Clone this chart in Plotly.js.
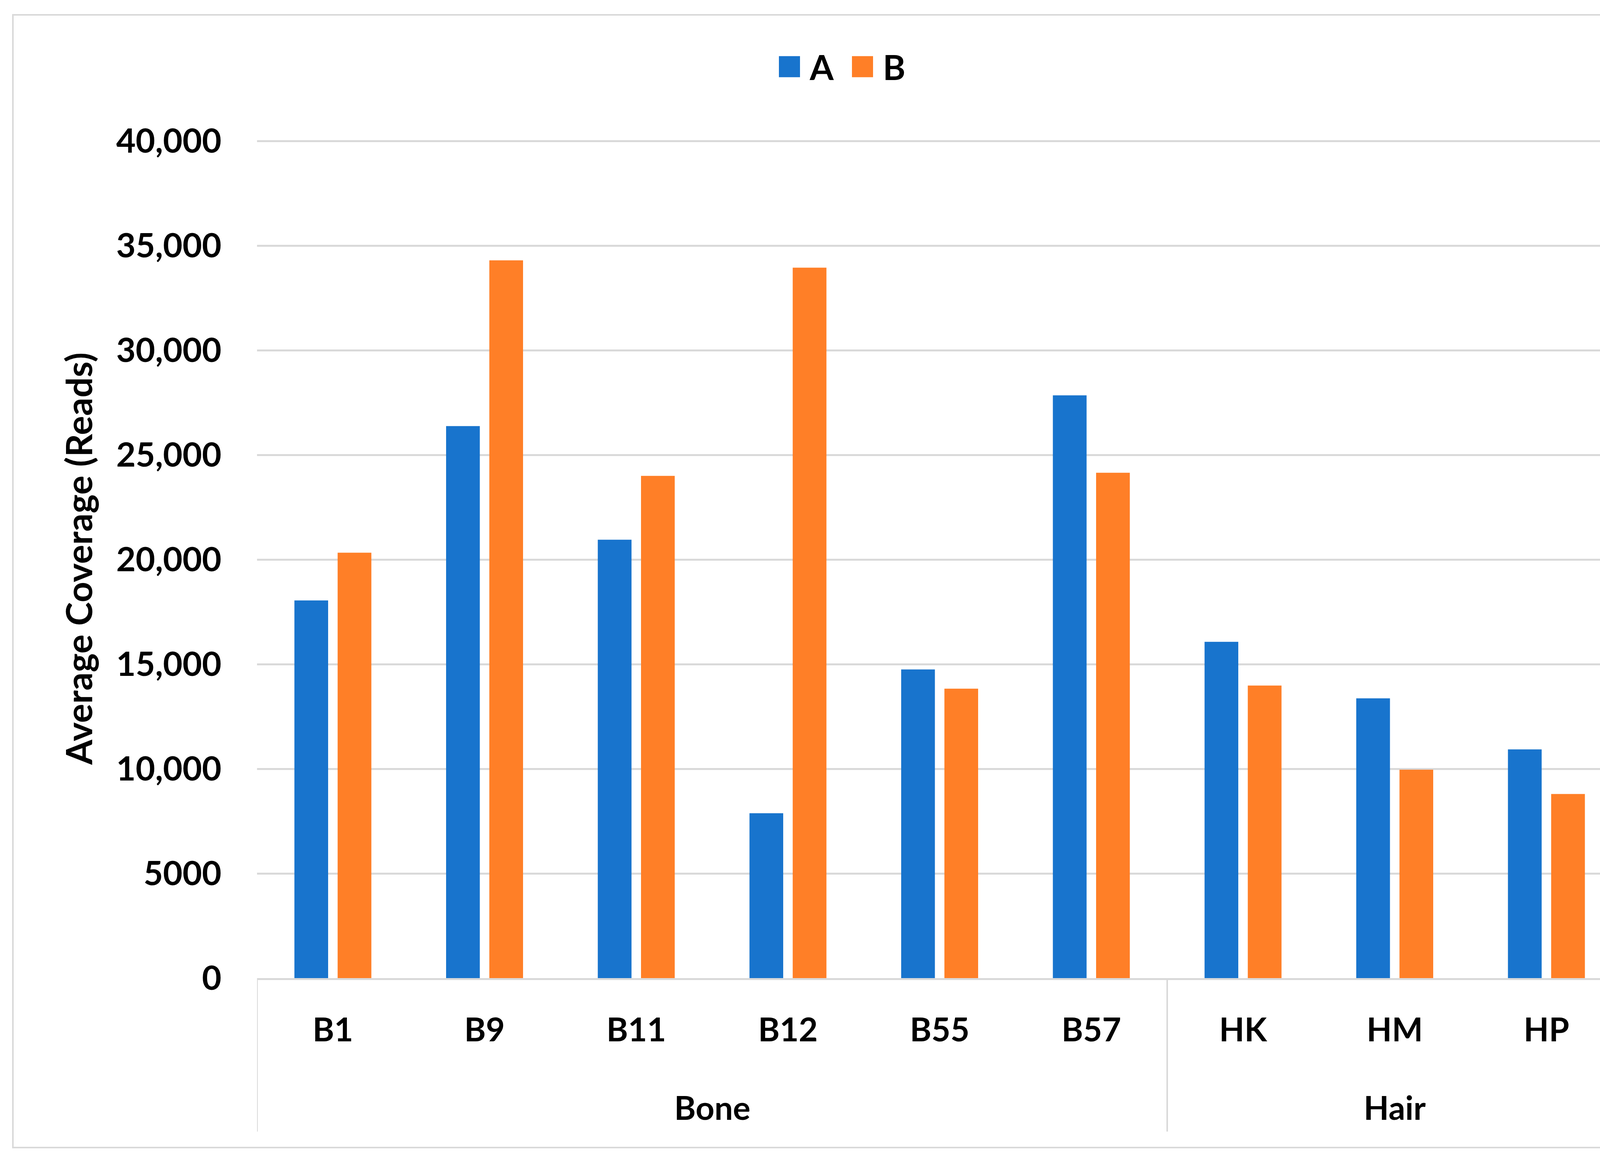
<!DOCTYPE html>
<html>
<head>
<meta charset="utf-8">
<script src="https://cdn.plot.ly/plotly-3.0.1.min.js"></script>
<style>
  html, body { margin: 0; padding: 0; background: #ffffff; overflow: hidden; }
  #chart { width: 4284px; height: 2976px; }
</style>
</head>
<body>
<div id="chart"></div>
<script>
// ---- data ----
const tissue  = ["Bone", "Bone", "Bone", "Bone", "Bone", "Bone", "Hair", "Hair", "Hair"];
const samples = ["B1", "B9", "B11", "B12", "B55", "B57", "HK", "HM", "HP"];
const seriesA = [18050, 26380, 20950, 7880, 14750, 27850, 16070, 13370, 10930];
const seriesB = [20330, 34300, 24000, 33950, 13830, 24150, 13980, 9960, 8800];
const seriesNames = ["A", "B"];
const yTickVals = [0, 5000, 10000, 15000, 20000, 25000, 30000, 35000, 40000];
const yTickText = ["0", "5000", "10,000", "15,000", "20,000", "25,000", "30,000", "35,000", "40,000"];
const yTitle = "Average Coverage (Reads)";

// ---- group spans derived from the category data ----
const groups = [];
tissue.forEach((g, i) => {
  const last = groups[groups.length - 1];
  if (last && last.name === g) last.end = i;
  else groups.push({ name: g, start: i, end: i });
});
const boundaries = [groups[0].start - 0.5].concat(groups.map(g => g.end + 0.5));

// ---- styles ----
const FONT = "Lato, 'Open Sans', sans-serif";
const GRAY = "#d9d9d9";
const colors = ["#1874CD", "#FF7F27"];

const traces = [seriesA, seriesB].map((vals, i) => ({
  type: "bar",
  name: seriesNames[i],
  x: samples,
  y: vals,
  marker: { color: colors[i], line: { width: 0 } },
  hoverinfo: "x+y+name"
}));

const W = 4284, H = 2976;
const L = 658, R = 4153, B = 2505;
const Y40 = 361;                     // pixel row of the 40,000 grid line
const YMAX = 40100;                  // small headroom so the top grid line is drawn
const T = Math.round(B - (B - Y40) * YMAX / 40000);
const pw = R - L, ph = B - T;
const px = v => (v - L) / pw;
const py = v => (B - v) / ph;

const groupFont = { family: FONT, size: 84, color: "#000000", weight: "bold" };

const layout = {
  width: W, height: H,
  margin: { l: L, r: W - R, t: T, b: H - B, pad: 0 },
  paper_bgcolor: "#ffffff",
  plot_bgcolor: "#ffffff",
  font: { family: FONT, size: 84, color: "#000000", weight: "bold" },
  barmode: "group",
  bargap: 0.43,
  bargroupgap: 0.22,
  showlegend: true,
  legend: {
    orientation: "h",
    xref: "container", yref: "container",
    x: 2180 / W, xanchor: "center",
    y: 1 - 171 / H, yanchor: "middle",
    font: { family: FONT, size: 88, color: "#000000", weight: "bold" },
    itemwidth: 70,
    entrywidth: 102, entrywidthmode: "pixels",
    bgcolor: "rgba(0,0,0,0)"
  },
  xaxis: {
    type: "category",
    range: [-0.5, samples.length - 0.5],
    showline: true, linecolor: GRAY, linewidth: 5,
    showgrid: false, zeroline: false,
    ticks: "",
    tickfont: { family: FONT, size: 84, color: "#000000", weight: "bold" },
    ticklabelstandoff: 56
  },
  yaxis: {
    range: [0, YMAX],
    tickmode: "array",
    tickvals: yTickVals,
    ticktext: yTickText,
    showline: false, zeroline: false,
    showgrid: true, gridcolor: GRAY, gridwidth: 5,
    ticks: "",
    tickfont: { family: FONT, size: 86, color: "#000000", weight: "bold" },
    ticklabelstandoff: 90,
    title: { text: yTitle, font: { family: FONT, size: 92, color: "#000000", weight: "bold" }, standoff: 30 }
  },
  shapes: [{
    type: "rect", xref: "paper", yref: "paper", layer: "below",
    x0: px(33), x1: px(4248), y0: py(2939), y1: py(38),
    line: { color: GRAY, width: 4 }, fillcolor: "rgba(0,0,0,0)"
  }].concat(boundaries.map(b => ({
    type: "line", xref: "x", yref: "paper", layer: "above",
    x0: b, x1: b, y0: 0, y1: py(2898),
    line: { color: GRAY, width: 4 }
  }))),
  annotations: groups.map(g => ({
    xref: "x", yref: "paper",
    x: (g.start + g.end) / 2, y: py(2835),
    xanchor: "center", yanchor: "middle",
    text: g.name, showarrow: false,
    font: groupFont
  }))
};

Plotly.newPlot("chart", traces, layout, { displayModeBar: false, staticPlot: true }).then(gd => {
  gd.querySelectorAll(".legend .legendpoints path").forEach(p => {
    p.setAttribute("d", "M15,27H-39V-27H15Z");
  });
});
</script>
</body>
</html>
